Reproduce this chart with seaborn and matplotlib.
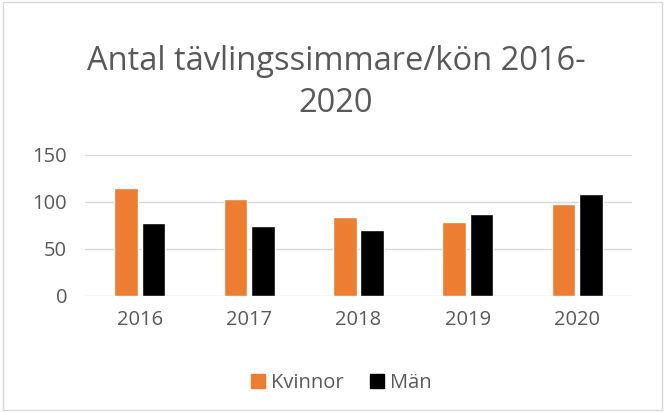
import matplotlib
matplotlib.use("Agg")
import matplotlib.pyplot as plt
import seaborn as sns
import pandas as pd
from matplotlib.patches import Rectangle

years = ["2016", "2017", "2018", "2019", "2020"]
kvinnor = [115, 103, 84, 79, 98]
man = [78, 74, 70, 87, 108]
series_names = ["Kvinnor", "Män"]
colors = ["#ED7D31", "#000000"]

df = pd.DataFrame({
    "År": years * 2,
    "Antal": kvinnor + man,
    "Kön": [series_names[0]] * len(years) + [series_names[1]] * len(years),
})

sns.set_theme(style="white")
plt.rcParams['font.family'] = ['Open Sans', 'DejaVu Sans']

fig = plt.figure(figsize=(6.65, 4.12), dpi=100)
ax = fig.add_axes([0.128, 0.2816, 0.822, 0.3424])

sns.barplot(data=df, x="År", y="Antal", hue="Kön", palette=colors,
            width=0.5, gap=0.13, ax=ax, legend=False, saturation=1)

ax.set_ylim(0, 150)
ax.set_yticks([0, 50, 100, 150])
ax.set_xlim(-0.5, 4.5)
ax.grid(axis="y", color="#D9D9D9", linewidth=1)
ax.set_axisbelow(True)
for s in ax.spines.values():
    s.set_visible(False)
ax.set_xlabel("")
ax.set_ylabel("")
ax.tick_params(axis="both", length=0, labelsize=14.5, labelcolor="#595959")
ax.tick_params(axis="y", pad=13)
ax.tick_params(axis="x", pad=10)

fig.text(0.505, 0.8, "Antal tävlingssimmare/kön 2016-\n2020", ha="center", va="center",
         fontsize=23.5, color="#595959", linespacing=1.38)

handles = [Rectangle((0, 0), 1, 1, color=c) for c in colors]
fig.legend(handles, series_names, loc="center", bbox_to_anchor=(0.513, 0.071), ncol=2,
           frameon=False, fontsize=14.5, labelcolor="#595959", handlelength=0.7,
           handleheight=0.7, handletextpad=0.3, columnspacing=1.3)

fig.patches.append(Rectangle((0.004, 0.004), 0.992, 0.992, transform=fig.transFigure,
                             fill=False, edgecolor="#D9D9D9", linewidth=1))

fig.savefig("out.png", dpi=100)
